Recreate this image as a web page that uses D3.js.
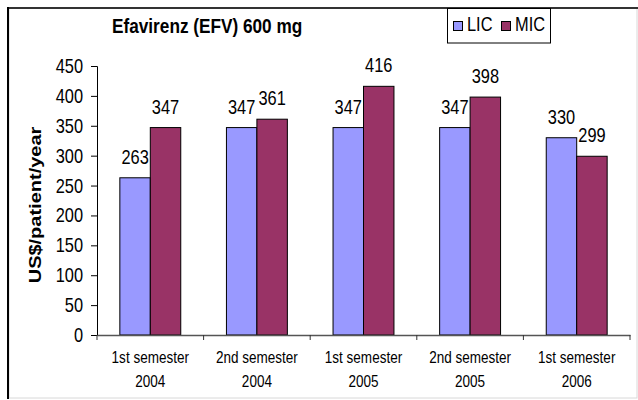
<!DOCTYPE html>
<html>
<head>
<meta charset="utf-8">
<script src="https://cdn.jsdelivr.net/npm/d3@7"></script>
<style>
  body { margin: 0; background: #fff; }
  text { font-family: Arial, "Liberation Sans", sans-serif; fill: #000; }
</style>
</head>
<body>
<svg id="chart"></svg>
<script>
const w = 638;
const h = 400;

const categories = ["1st semester|2004", "2nd semester|2004", "1st semester|2005", "2nd semester|2005", "1st semester|2006"];
const series = ["LIC", "MIC"];
const lic = [263, 347, 347, 347, 330];
const mic = [347, 361, 416, 398, 299];
const yTicks = [0, 50, 100, 150, 200, 250, 300, 350, 400, 450];
const colors = ["#9999ff", "#993366"];

// text in the picture is squeezed sideways
const sx = 0.82;

let svg = d3.select("svg")
    svg.attr("width", w)
    svg.attr("height", h);

// frame
svg.append("rect").attr("x", 9).attr("y", 8).attr("width", w - 10).attr("height", h - 10)
   .attr("fill", "none").attr("stroke", "#d8d8d8").attr("stroke-width", 1);
svg.append("line").attr("x1", 8).attr("x2", 638).attr("y1", 8).attr("y2", 8)
   .attr("stroke", "#333").attr("stroke-width", 2);
svg.append("line").attr("x1", 8).attr("x2", 8).attr("y1", 7).attr("y2", 399)
   .attr("stroke", "#000").attr("stroke-width", 2);

let yScale = d3.scaleLinear()
               .domain([0, 450])
               .range([335, 66]);

let xScale = d3.scaleBand()
               .domain(categories)
               .range([97, 630]);

let bw = xScale.bandwidth();
let gap = bw * 1.5 / 3.5;

let xInner = d3.scaleBand()
               .domain(series)
               .range([gap / 2, bw - gap / 2]);

const label = (x, y, str, size, anchor, bold) => {
    return svg.append("text")
              .attr("transform", `translate(${x},${y}) scale(${sx},1)`)
              .attr("text-anchor", anchor)
              .style("font-size", size + "px")
              .style("font-weight", bold ? "bold" : "normal")
              .text(str);
};

// y axis
let yAxis = d3.axisLeft(yScale).tickValues(yTicks).tickSize(6).tickFormat("");
let yg = svg.append("g")
   .attr("id", "y-axis")
   .attr("transform", "translate(97,0)")
   .call(yAxis);
yg.select(".domain").attr("stroke", "#000");
yg.selectAll(".tick line").attr("stroke", "#000");
yTicks.forEach(t => label(83, yScale(t) + 7, t, 20, "end", false));

// bars
let groups = svg.selectAll(".grp")
   .data(categories)
   .enter()
   .append("g")
   .attr("class", "grp")
   .attr("transform", d => `translate(${xScale(d)},0)`);

groups.selectAll("rect")
   .data((d, i) => series.map((s, j) => ({ s: s, v: j === 0 ? lic[i] : mic[i], j: j })))
   .enter()
   .append("rect")
   .attr("class", "bar")
   .attr("x", d => xInner(d.s))
   .attr("width", xInner.bandwidth())
   .attr("y", d => yScale(d.v))
   .attr("height", d => yScale(0) - yScale(d.v))
   .style("fill", d => colors[d.j])
   .style("stroke", "#000")
   .style("stroke-width", 1);

// value labels
categories.forEach((c, i) => {
    [lic[i], mic[i]].forEach((v, j) => {
        let cx = xScale(c) + xInner(series[j]) + xInner.bandwidth() / 2;
        label(cx, yScale(v) - 14, v, 20, "middle", false);
    });
});

// x axis
let xAxis = d3.axisBottom(xScale).tickSize(0).tickFormat("");
let xg = svg.append("g")
   .attr("id", "x-axis")
   .attr("transform", "translate(0,335)")
   .call(xAxis);
xg.select(".domain").attr("stroke", "#555").attr("stroke-width", 1.5);
d3.range(categories.length + 1).forEach(i => {
    let x = 97 + i * bw;
    xg.append("line").attr("x1", x).attr("x2", x).attr("y1", 0).attr("y2", 5).attr("stroke", "#333");
});
categories.forEach(c => {
    let parts = c.split("|");
    let cx = xScale(c) + bw / 2;
    label(cx, 363, parts[0], 16.5, "middle", false);
    label(cx, 387, parts[1], 16.5, "middle", false);
});

// titles
label(112, 33, "Efavirenz (EFV) 600 mg", 21, "start", true);
svg.append("text")
   .attr("transform", "translate(41,205) rotate(-90) scale(1,0.85)")
   .attr("text-anchor", "middle")
   .style("font-size", "20px")
   .style("font-weight", "bold")
   .text("US$/patient/year");

// legend
let legend = svg.append("g").attr("id", "legend");
legend.append("rect").attr("x", 447.5).attr("y", 8.5).attr("width", 103).attr("height", 34.5)
      .attr("fill", "#fff").attr("stroke", "#000");
const legX = [453, 501];
series.forEach((s, j) => {
    legend.append("rect").attr("x", legX[j] + 0.5).attr("y", 21.5).attr("width", 9).attr("height", 9)
          .style("fill", colors[j]).style("stroke", "#000");
    label(legX[j] + 14, 31, s, 20, "start", false);
});
</script>
</body>
</html>
